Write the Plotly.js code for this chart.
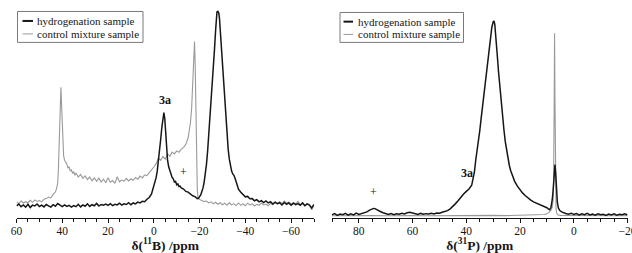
<!DOCTYPE html>
<html>
<head>
<meta charset="utf-8">
<script src="https://cdn.plot.ly/plotly-3.0.1.min.js"></script>
<style>html,body{margin:0;padding:0;background:#fff;overflow:hidden}</style>
</head>
<body>
<div id="chart" style="width:632px;height:253px"></div>
<script>
// ---------- DATA ----------
// Left panel: 11B NMR, chemical shift (ppm) and relative intensity
const bHydroPpm = [
  60,59,58,57,56,55,54,53,52,51,
  50,49,48,47,46,45,44,43,42,41,
  40,39,38,37,36,35,34,33,32,31,
  30,29,28,27,26,25,24,23,22,21,
  20,19,18,17,16,15,14,13,12,11,
  10,9,8,7,6,5,4,3,2,1,
  0.5,0,-0.5,-1,-1.5,-2,-2.5,-3,-3.5,-4,
  -4.4,-4.8,-5.2,-5.6,-6,-6.5,-7,-7.5,-8,-8.5,
  -9,-9.5,-10,-10.5,-11,-11.5,-12,-13,-14,-15,
  -16,-17,-18,-18.5,-19,-19.5,-20,-20.5,-21,-21.5,
  -22,-22.5,-23,-23.5,-24,-24.5,-25,-25.5,-26,-26.5,
  -27,-27.3,-27.6,-28,-28.4,-28.7,-29,-29.5,-30,-30.5,
  -31,-31.5,-32,-32.5,-33,-33.5,-34,-34.5,-35,-35.5,
  -36,-36.5,-37,-38,-39,-40,-41,-42,-43,-44,
  -45,-46,-47,-48,-49,-50,-51,-52,-53,-54,
  -55,-56,-57,-58,-59,-60,-61,-62,-63,-64,
  -65,-66,-67,-68,-69,-70
];
const bHydroInt = [
  5.6,6.4,5.2,6.0,5.0,6.3,4.8,5.9,5.5,6.4,
  5.3,5.9,5.1,6.2,5.6,5.0,6.1,5.4,6.6,5.8,
  5.2,6.0,5.3,5.8,5.0,5.7,5.2,6.3,5.1,6.0,
  5.4,6.5,5.3,6.1,5.6,6.7,5.5,6.2,5.9,6.4,
  5.8,6.6,5.7,6.3,6.0,6.8,5.9,6.5,6.2,7.0,
  6.1,6.9,6.5,7.3,6.9,7.7,7.5,8.6,9.4,11.0,
  12.8,14.6,16.8,18.5,21.5,25.5,30.5,36,41.5,46.5,
  48.4,45.5,38.5,31.5,26.5,23.5,21.5,20.2,18.6,18.0,
  16.5,16.8,15.2,15.6,14.4,14.6,13.8,13.3,12.2,11.9,
  11.0,10.2,9.8,9.2,8.9,9.0,9.6,10.6,12.2,13.8,
  16.5,20,24.5,30.5,37.5,44.5,52,60,68.5,77,
  86,91.5,94.5,94.8,94,91.5,86.5,78.5,69.5,60.5,
  51.5,43.5,37,31.5,27,24,21.5,20.2,19.6,18.2,
  16.2,14.4,13.2,11.8,10.9,9.7,9.9,8.8,8.9,7.9,
  8.4,7.4,8.0,7.1,7.8,6.9,7.5,6.4,7.3,6.6,
  7.0,6.0,7.1,6.3,6.9,5.9,6.8,6.1,6.6,5.8,
  6.9,5.6,6.5,5.9,4.6,6.2
];
const bCtrlPpm = [
  60,59,58,57,56,55,54,53,52,51,
  50,49,48,47,46,45,44,43,42.5,42,
  41.7,41.4,41.1,40.8,40.6,40.3,40,39.7,39.4,39,
  38.5,38,37.5,37,36.5,36,35.5,35,34.5,34,
  33,32,31,30,29,28,27,26,25,24,
  23,22,21,20,19,18,17,16,15,14,
  13,12,11,10,9,8,7,6,5,4,
  3,2,1,0,-1,-2,-3,-4,-5,-6,
  -7,-8,-9,-10,-11,-12,-13,-14,-15,-15.5,
  -16,-16.5,-17,-17.4,-17.8,-18.1,-18.4,-18.7,-19,-19.3,
  -19.6,-20,-21,-22,-23,-24,-25,-26,-27,-28,
  -29,-30,-31,-32,-33,-34,-35,-36,-37,-38,
  -39,-40,-41,-42,-43,-44,-45,-46,-47,-48,
  -49,-50,-51,-52,-53,-54,-55,-56,-57,-58,
  -59,-60,-61,-62,-63,-64,-65,-66,-67,-68,
  -69,-70
];
const bCtrlInt = [
  7.4,6.6,7.8,6.9,7.5,7.0,8.1,7.2,8.3,7.6,
  8.0,7.4,8.6,8.9,9.6,9.2,10.8,11.9,13.5,16,
  22,32,46,58,60,52,40,32,28.5,26.5,
  25.5,24.8,22.8,23.6,21.5,22.2,20.4,21.3,19.6,20.6,
  18.8,20.0,18.2,19.3,17.6,18.8,17.1,18.4,16.8,18.3,
  16.5,17.8,16.2,18.5,16.4,17.2,15.9,18.9,16.6,17.4,
  16.8,18.2,17.0,17.9,17.3,18.6,17.8,19.2,18.4,19.8,
  19.4,20.6,22.0,23.4,24.8,27.5,26.4,28.2,27.0,29.5,
  28.3,30.2,29.4,30.8,30.2,31.6,32.4,33.8,36.8,39.5,
  43.7,49.7,62,73,81,69.5,46.6,26.8,13,9.2,
  8.6,8.5,8.0,7.5,7.8,6.9,7.4,6.5,7.2,6.3,
  7.0,6.1,6.8,5.9,7.1,6.0,6.6,5.7,6.9,5.8,
  6.5,5.6,6.8,5.9,6.6,5.5,6.3,5.8,6.9,6.0,
  6.4,5.6,6.7,6.1,7.2,6.4,7.5,6.6,7.8,6.8,
  7.4,6.2,7.0,6.5,7.6,6.0,6.9,5.7,6.6,5.9,
  3.8,6.0
];
// Right panel: 31P NMR
const pHydroPpm = [
  90,89,88,87,86,85,84,83,82,81,
  80,79,78,77,76,75,74.5,74,73,72,
  71,70,69,68,67,66,65,64,63,62,
  61,60,59,58,57,56,55,54,53,52,
  51,50,49,48,47,46,45,44,43,42,
  41,40,39,38,37.5,37,36.5,36,35.5,35,
  34.5,34,33.5,33,32.5,32,31.5,31,30.5,30,
  29.7,29.4,29,28.5,28,27.5,27,26.5,26,25.5,
  25,24.5,24,23.5,23,22,21,20,19,18,
  17,16,15,14,13,12,11,10,9.5,9,
  8.5,8,7.6,7.3,7,6.7,6.4,6.1,5.7,5.2,
  4.5,4,3,2,1,0,-1,-2,-3,-4,
  -5,-6,-7,-8,-9,-10,-11,-12,-13,-14,
  -15,-16,-17,-18,-19,-20
];
const pHydroInt = [
  1.4,2.0,1.2,1.8,1.5,2.1,1.3,1.9,1.4,2.2,
  1.6,2.0,2.1,2.8,3.6,4.2,4.4,4.3,3.8,3.0,
  2.4,2.0,1.6,2.0,1.5,1.9,1.7,2.2,1.9,2.4,
  2.6,2.3,2.0,1.6,2.1,1.7,2.0,1.8,2.2,1.9,
  2.3,2.2,2.6,2.9,3.4,4.2,5.3,6.6,8.0,9.6,
  11.0,12.2,13.3,15.0,17.5,21,26.5,30.5,35,40,
  45.5,51,56,61,66,71,77.5,83,87.5,90,
  90.4,88.8,84,75,67,59.5,53,46.5,40.5,35,
  30.6,27.5,24.2,21.8,19.8,16.8,14.6,12.9,11.4,10.2,
  9.0,8.2,7.4,6.9,6.2,5.8,5.2,4.7,4.2,3.8,
  4.8,8.5,14,20,24.5,20,12,7,4.5,3.4,
  2.8,2.5,2.1,1.7,2.2,1.6,2.0,1.4,1.9,1.5,
  2.1,1.4,1.8,1.3,1.9,1.5,1.7,1.2,1.8,1.4,
  1.9,1.3,1.7,1.5,1.9,1.4
];
const pCtrlPpm = [
  90,85,80,75,70,65,60,55,50,45,
  40,35,30,25,20,15,12,11,10,9.5,
  9,8.5,8,7.7,7.5,7.3,7.15,7,6.8,6.6,
  6.3,6,5,0,-5,-10,-15,-20
];
const pCtrlInt = [
  1.0,1.1,1.0,1.1,1.0,1.2,1.1,1.0,1.1,1.0,
  1.1,1.1,1.2,1.1,1.2,1.3,1.4,1.6,1.9,2.3,
  2.8,3.6,5.0,8,20,50,84.8,55,15,4,
  2.0,1.5,1.2,1.1,1.0,1.1,1.0,1.1
];
const seriesNames = ['hydrogenation sample', 'control mixture sample'];
const tickValsB = [60, 40, 20, 0, -20, -40, -60];
const tickValsP = [80, 60, 40, 20, 0, -20];

// ---------- STYLE / LAYOUT ----------
const W = 632, H = 253, BOTTOM = 218.5;
const px = x => x / W;
const py = y => (BOTTOM - y) / BOTTOM;
const FONT = '"Liberation Serif", "Times New Roman", serif';
const INK = '#161616', GREY = '#999999';
const NB = '\u00a0';

const traces = [
  {x: bCtrlPpm, y: bCtrlInt, name: seriesNames[1], xaxis: 'x', yaxis: 'y', mode: 'lines',
   line: {color: GREY, width: 1.1}},
  {x: bHydroPpm, y: bHydroInt, name: seriesNames[0], xaxis: 'x', yaxis: 'y', mode: 'lines',
   line: {color: INK, width: 1.5}},
  {x: pCtrlPpm, y: pCtrlInt, name: seriesNames[1], xaxis: 'x2', yaxis: 'y2', mode: 'lines',
   line: {color: GREY, width: 1.1}},
  {x: pHydroPpm, y: pHydroInt, name: seriesNames[0], xaxis: 'x2', yaxis: 'y2', mode: 'lines',
   line: {color: INK, width: 1.5}}
];

function xAxis(domain, range, tickvals, title) {
  return {
    domain: domain, range: range, tickmode: 'array', tickvals: tickvals,
    ticks: 'outside', ticklen: 4, tickwidth: 1, tickcolor: INK,
    minor: {dtick: 5, tick0: 0, ticks: 'outside', ticklen: 2.5, tickwidth: 1, tickcolor: INK, showgrid: false},
    showline: true, linecolor: INK, linewidth: 1, showgrid: false, zeroline: false,
    tickfont: {family: FONT, size: 11.5, color: INK}, ticklabeloverflow: 'allow', ticklabelstandoff: -2,
    title: {text: title, font: {family: FONT, size: 13.5, color: INK}, standoff: 3},
    fixedrange: true
  };
}

const legendDefs = [
  {x0: 17.5, x1: 143, y0: 11.5, y1: 42.5, lx0: 22.5, lx1: 33, tx: 35, r1: 21, r2: 34},
  {x0: 340, x1: 463.5, y0: 12.5, y1: 42.5, lx0: 343.5, lx1: 353, tx: 356, r1: 21.7, r2: 34.5}
];
const shapes = [], annotations = [];
legendDefs.forEach(d => {
  shapes.push({type: 'rect', xref: 'paper', yref: 'paper', x0: px(d.x0), x1: px(d.x1), y0: py(d.y0), y1: py(d.y1),
               line: {color: '#7a7a7a', width: 1}, fillcolor: 'rgba(255,255,255,0)'});
  shapes.push({type: 'line', xref: 'paper', yref: 'paper', x0: px(d.lx0), x1: px(d.lx1), y0: py(d.r1), y1: py(d.r1),
               line: {color: INK, width: 2}});
  shapes.push({type: 'line', xref: 'paper', yref: 'paper', x0: px(d.lx0), x1: px(d.lx1), y0: py(d.r2), y1: py(d.r2),
               line: {color: GREY, width: 1}});
  annotations.push({xref: 'paper', yref: 'paper', x: px(d.tx), y: py(d.r1), xanchor: 'left', yanchor: 'middle',
                    text: seriesNames[0], showarrow: false, font: {family: FONT, size: 11, color: INK}});
  annotations.push({xref: 'paper', yref: 'paper', x: px(d.tx), y: py(d.r2), xanchor: 'left', yanchor: 'middle',
                    text: seriesNames[1], showarrow: false, font: {family: FONT, size: 11, color: INK}});
});
// peak labels
annotations.push({xref: 'x', yref: 'y', x: -4.7, y: 54.2, text: '<b>3a</b>', showarrow: false,
                  font: {family: FONT, size: 12, color: INK}});
annotations.push({xref: 'x', yref: 'y', x: -12.8, y: 21, text: '+', showarrow: false,
                  font: {family: FONT, size: 12, color: INK}});
annotations.push({xref: 'x2', yref: 'y2', x: 39.6, y: 20.7, text: '<b>3a</b>', showarrow: false,
                  font: {family: FONT, size: 12, color: INK}});
annotations.push({xref: 'x2', yref: 'y2', x: 74.4, y: 11.8, text: '+', showarrow: false,
                  font: {family: FONT, size: 12, color: INK}});

const layout = {
  width: W, height: H,
  margin: {l: 0, r: 0, t: 0, b: H - BOTTOM, pad: 0},
  paper_bgcolor: '#fff', plot_bgcolor: '#fff',
  showlegend: false,
  font: {family: FONT, color: INK},
  xaxis: xAxis([px(16.5), px(314)], [60, -70], tickValsB, '<b>δ(<sup>11</sup>B) /ppm</b>'),
  xaxis2: xAxis([px(332), px(627.5)], [90, -20], tickValsP,
                NB + NB + NB + NB + '<b>δ(<sup>31</sup>P) /ppm</b>'),
  yaxis: {domain: [0, 1], range: [0, 100], visible: false, fixedrange: true},
  yaxis2: {domain: [0, 1], range: [0, 100], visible: false, fixedrange: true, anchor: 'x2'},
  shapes: shapes, annotations: annotations
};
layout.xaxis2.anchor = 'y2';

Plotly.newPlot('chart', traces, layout, {staticPlot: true, displayModeBar: false});
</script>
</body>
</html>
